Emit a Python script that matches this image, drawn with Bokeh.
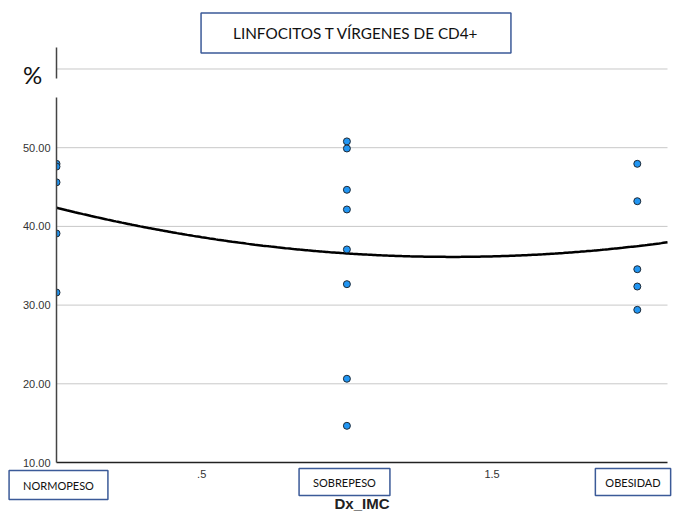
import numpy as np
from bokeh.plotting import figure
from bokeh.models import (FixedTicker, NumeralTickFormatter, Label, Range1d,
                          LinearAxis, BoxAnnotation)
from bokeh.embed import file_html
from bokeh.resources import INLINE

# Groups of Dx_IMC, coded 0 / 1 / 2 on the x axis
categories = ["NORMOPESO", "SOBREPESO", "OBESIDAD"]
category_codes = [0, 1, 2]

# % naive CD4+ T lymphocytes per group
normopeso = [47.95, 47.6, 45.6, 39.1, 31.6]
sobrepeso = [50.8, 49.9, 44.65, 42.15, 37.07, 32.66, 20.64, 14.66]
obesidad = [47.95, 43.2, 34.56, 32.36, 29.4]

y_ticks = [10, 20, 30, 40, 50, 60]
x_ticks = [0, 0.5, 1, 1.5, 2]
x_tick_labels = ["", ".5", "", "1.5", ""]

title_text = "LINFOCITOS T VÍRGENES DE CD4+"
x_title = "Dx_IMC"
y_title = "%"

groups = [normopeso, sobrepeso, obesidad]
xs, ys = [], []
for code, vals in zip(category_codes, groups):
    xs.extend([code] * len(vals))
    ys.extend(vals)

# quadratic fit line through all points
coef = np.polyfit(xs, ys, 2)

# visible plotting area (data units)
X0, X1 = 0, 2.104
Y0, Y1 = 10, 62.73

W, H = 675, 512
LEFT, RIGHT, TOP, BOTTOM = 56, 8, 47, 50
sx = (W - LEFT - RIGHT) / (X1 - X0)
sy = (H - TOP - BOTTOM) / (Y1 - Y0)

xfit = np.linspace(X0, X1, 300)
yfit = np.polyval(coef, xfit)

# The frame spans the whole canvas so that boxed labels in the margins are drawn
p = figure(width=W, height=H, output_backend="svg", toolbar_location=None,
           x_range=Range1d(X0 - LEFT / sx, X1 + RIGHT / sx),
           y_range=Range1d(Y0 - BOTTOM / sy, Y1 + TOP / sy),
           x_axis_location=None, y_axis_location=None,
           min_border=0)
p.outline_line_color = None
p.background_fill_color = "white"
p.border_fill_color = "white"
p.grid.visible = False

# pixel -> data helpers for placing annotations
def px2x(px):
    return X0 + (px - LEFT) / sx

def px2y(py):
    return Y0 + (H - BOTTOM - py) / sy

# horizontal reference lines at the y ticks
grid_vals = y_ticks[1:]
p.segment(x0=[X0] * len(grid_vals), x1=[X1] * len(grid_vals), y0=grid_vals, y1=grid_vals,
          line_color="#c8c8c8", line_width=1, level="underlay")

p.line(xfit, yfit, line_color="black", line_width=2.5, level="underlay")
p.scatter(xs, ys, size=7, fill_color="#2196f3", line_color="#1f2a36", line_width=1,
          level="underlay")

# white mask left of x = 0 so points sitting on the axis appear cut in half
p.add_layout(BoxAnnotation(right=X0, fill_color="white", fill_alpha=1,
                           line_color=None, level="glyph"))

yaxis = LinearAxis(fixed_location=X0, bounds=(Y0, Y1))
yaxis.ticker = FixedTicker(ticks=y_ticks)
yaxis.formatter = NumeralTickFormatter(format="0.00")
yaxis.major_label_overrides = {60: ""}
yaxis.axis_line_color = "#444444"
yaxis.axis_line_width = 1.5
yaxis.major_tick_line_color = None
yaxis.minor_tick_line_color = None
yaxis.major_tick_out = 0
yaxis.major_tick_in = 0
yaxis.major_label_standoff = 6
yaxis.major_label_text_font = "Liberation Sans"
yaxis.major_label_text_font_size = "11px"
yaxis.major_label_text_color = "#333333"
p.add_layout(yaxis, "left")

xaxis = LinearAxis(fixed_location=Y0, bounds=(X0, X1))
xaxis.ticker = FixedTicker(ticks=x_ticks)
xaxis.major_label_overrides = {t: s for t, s in zip(x_ticks, x_tick_labels)}
xaxis.axis_line_color = "#222222"
xaxis.axis_line_width = 1.5
xaxis.major_tick_line_color = None
xaxis.minor_tick_line_color = None
xaxis.major_tick_out = 0
xaxis.major_tick_in = 0
xaxis.major_label_standoff = 7
xaxis.major_label_text_font = "Liberation Sans"
xaxis.major_label_text_font_size = "11px"
xaxis.major_label_text_color = "#333333"
xaxis.axis_label = x_title
xaxis.axis_label_text_font = "Liberation Sans"
xaxis.axis_label_text_font_style = "bold"
xaxis.axis_label_text_font_size = "15px"
xaxis.axis_label_text_color = "#222222"
xaxis.axis_label_standoff = 14
p.add_layout(xaxis, "below")

# small break in the y axis line below the "%" sign
p.add_layout(BoxAnnotation(left=px2x(52), right=px2x(60), top=px2y(78), bottom=px2y(97),
                           fill_color="white", fill_alpha=1, line_color=None,
                           level="overlay"))

BOX_COLOR = "#3b5a98"

def boxed(text, cx, cy, size, pad_x, pad_y):
    return Label(x=px2x(cx), y=px2y(cy), text=text,
                 text_align="center", text_baseline="middle",
                 text_font="Lato", text_font_size=size, text_color="#111111",
                 background_fill_color="white",
                 border_line_color=BOX_COLOR, border_line_width=1.5,
                 padding=dict(left=pad_x, right=pad_x, top=pad_y, bottom=pad_y))

p.add_layout(boxed(title_text, 355.5, 32.5, "15.3px", 32, 11))
p.add_layout(boxed(categories[0], 58, 484.5, "11px", 14, 8))
p.add_layout(boxed(categories[1], 344, 481.5, "11px", 14, 7))
p.add_layout(boxed(categories[2], 632.5, 481.5, "11px", 10, 7))

p.add_layout(Label(x=px2x(32), y=px2y(74), text=y_title,
                   text_align="center", text_baseline="middle",
                   text_font="Lato", text_font_size="24px", text_color="#111111"))

open("out.html", "w").write(file_html(p, INLINE))
